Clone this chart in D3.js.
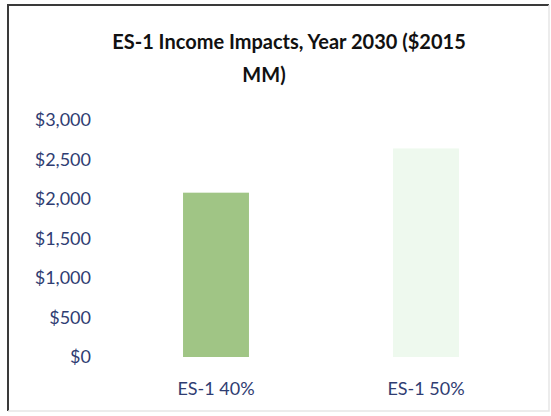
<!DOCTYPE html>
<html>
<head>
<meta charset="utf-8">
<script src="https://cdn.jsdelivr.net/npm/d3@7"></script>
<style>
  html, body { margin: 0; padding: 0; background: #fff; }
  svg { display: block; }
</style>
</head>
<body>
<svg id="chart" width="551" height="416"></svg>
<script>
// Income impacts by scenario, year 2030 ($2015 MM)
const categories = ["ES-1 40%", "ES-1 50%"];
const incomeValues = [2080, 2640];
const barColors = ["#a0c585", "#eef9ee"];
const yTicks = [0, 500, 1000, 1500, 2000, 2500, 3000];
const titleLines = ["ES-1 Income Impacts, Year 2030 ($2015", "MM)"];

const svg = d3.select("#chart");
const W = 551, H = 416;
const font = "Lato, 'Open Sans', sans-serif";
const labelColor = "#2f3d72";

// outer frame
svg.append("rect").attr("x", 0).attr("y", 0).attr("width", W).attr("height", H).attr("fill", "#fff");
svg.append("path").attr("d", `M8,411 V5 H549`).attr("fill", "none").attr("stroke", "#3a3a3a").attr("stroke-width", 2);
svg.append("path").attr("d", `M549,5 V411 H8`).attr("fill", "none").attr("stroke", "#e6e6e6").attr("stroke-width", 1.5);

// title
const title = svg.append("text")
  .attr("font-family", font).attr("font-weight", "bold").attr("font-size", 20)
  .attr("fill", "#111");
title.append("tspan").attr("x", 289).attr("y", 49).attr("text-anchor", "middle").text(titleLines[0]);
title.append("tspan").attr("x", 264).attr("y", 82).attr("text-anchor", "middle").text(titleLines[1]);

// scales
const y = d3.scaleLinear().domain([0, 3000]).range([357, 120]);
const x = d3.scaleBand().domain(categories).range([111, 531]).paddingInner(0.686).paddingOuter(0.343);

// y axis (labels only)
const yAxis = d3.axisLeft(y).tickValues(yTicks).tickSize(0).tickPadding(0)
  .tickFormat(d => "$" + d3.format(",")(d));
const gy = svg.append("g").attr("transform", "translate(91,0)").call(yAxis);
gy.select(".domain").remove();
gy.selectAll("text").attr("font-family", font).attr("font-size", 18).attr("fill", labelColor);

// bars
svg.append("g").selectAll("rect").data(incomeValues).join("rect")
  .attr("x", (d, i) => x(categories[i]))
  .attr("width", x.bandwidth())
  .attr("y", d => y(d))
  .attr("height", d => y(0) - y(d))
  .attr("fill", (d, i) => barColors[i]);

// x axis (labels only)
const xAxis = d3.axisBottom(x).tickSize(0).tickPadding(0);
const gx = svg.append("g").attr("transform", "translate(0,382)").call(xAxis);
gx.select(".domain").remove();
gx.selectAll("text").attr("font-family", font).attr("font-size", 18).attr("fill", labelColor);
</script>
</body>
</html>
